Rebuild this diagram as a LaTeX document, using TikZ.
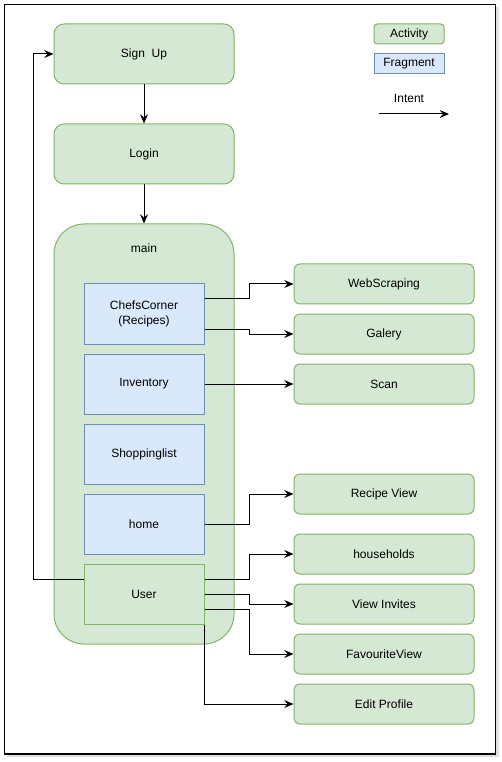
\documentclass[tikz,border=0pt]{standalone}
\usepackage{fontspec}
\setmainfont{Liberation Sans}
\usetikzlibrary{arrows.meta}
\definecolor{actfill}{HTML}{D5E8D4}
\definecolor{actline}{HTML}{82B366}
\definecolor{fragfill}{HTML}{DAE8FC}
\definecolor{fragline}{HTML}{6C8EBF}
\begin{document}
\begin{tikzpicture}[x=0.75pt,y=-0.75pt,
  font=\fontsize{9}{11}\selectfont,
  act/.style={draw=actline,fill=actfill,rounded corners=7.5pt,line width=0.75pt,minimum width=135pt,minimum height=45pt,inner sep=0pt,align=center},
  sact/.style={draw=actline,fill=actfill,rounded corners=4.5pt,line width=0.75pt,minimum width=135pt,minimum height=30pt,inner sep=0pt,align=center},
  frag/.style={draw=fragline,fill=fragfill,line width=0.75pt,minimum width=90pt,minimum height=45pt,inner sep=0pt,align=center},
  intent/.style={draw=black,line width=0.75pt,-{Stealth[length=7pt,width=6pt,inset=2.5pt]}},
  plain/.style={draw=black,line width=0.75pt}
]
\useasboundingbox (0,0) rectangle (501,762);
% shadow and frame
\fill[black!12] (7,7) rectangle (499,757);
\draw[line width=0.9pt,fill=white] (4.5,4.5) rectangle (495.5,754);

% legend
\node[draw=actline,fill=actfill,rounded corners=2.5pt,line width=0.75pt,minimum width=52.5pt,minimum height=15pt,inner sep=0pt] (lact) at (409,34) {Activity};
\node[draw=fragline,fill=fragfill,line width=0.75pt,minimum width=52.5pt,minimum height=15pt,inner sep=0pt] (lfrag) at (409,64) {Fragment};
\node (lint) at (409,98) {Intent};
\coordinate (la) at (379,114);
\coordinate (lb) at (449,114);
\draw[intent] (la) -- (lb);

% main container
\node[draw=actline,fill=actfill,rounded corners=22.5pt,line width=0.75pt,minimum width=135pt,minimum height=315pt,inner sep=0pt] (main) at (144,434) {};
\node (maint) at (144,248) {main};

\node[act] (signup) at (144,54) {Sign\ \ Up};
\node[act] (login) at (144,154) {Login};

\node[frag] (chefs) at (144,314) {ChefsCorner\\(Recipes)};
\node[frag] (inv) at (144,384) {Inventory};
\node[frag] (shop) at (144,454) {Shoppinglist};
\node[frag] (home) at (144,524) {home};
\node[draw=actline,fill=actfill,line width=0.75pt,minimum width=90pt,minimum height=45pt,inner sep=0pt] (user) at (144,594) {User};

\node[sact] (web) at (384,284) {WebScraping};
\node[sact] (gal) at (384,334) {Galery};
\node[sact] (scan) at (384,384) {Scan};
\node[sact] (rview) at (384,494) {Recipe View};
\node[sact] (house) at (384,554) {households};
\node[sact] (vinv) at (384,604) {View Invites};
\node[sact] (fav) at (384,654) {FavouriteView};
\node[sact] (edit) at (384,704) {Edit Profile};

% connectors
\draw[intent] (signup.south) -- (login.north);
\draw[intent] (login.south) -- (main.north);
\draw[intent] ([yshift=11.25pt]user.west) -- ++(-50,0) |- (signup.west);

\draw[intent] ([yshift=11.25pt]chefs.east) -- ++(45,0) |- (web.west);
\draw[intent] ([yshift=-11.25pt]chefs.east) -- ++(45,0) |- (gal.west);
\draw[intent] (inv.east) -- (scan.west);
\draw[intent] (home.east) -- ++(45,0) |- (rview.west);
\draw[intent] ([yshift=11.25pt]user.east) -- ++(45,0) |- (house.west);
\draw[intent] (user.east) -- ++(45,0) |- (vinv.west);
\draw[intent] ([yshift=-11.25pt]user.east) -- ++(45,0) |- (fav.west);
\draw[intent] (user.south east) |- (edit.west);
\end{tikzpicture}
\end{document}
